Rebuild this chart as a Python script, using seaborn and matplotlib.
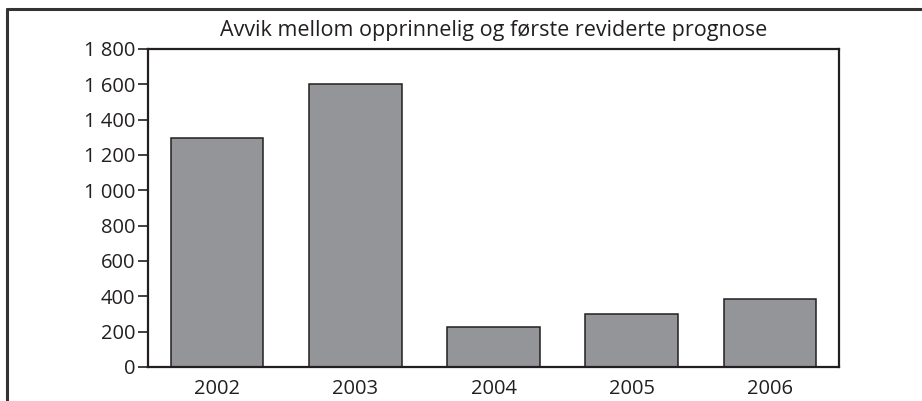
import matplotlib.pyplot as plt
import pandas as pd
import seaborn as sns
from matplotlib.lines import Line2D
from matplotlib.ticker import FuncFormatter, MultipleLocator

years = ["2002", "2003", "2004", "2005", "2006"]
deviation = [1295, 1600, 228, 298, 385]

title = "Avvik mellom opprinnelig og første reviderte prognose"
ink = "#231f20"


def main():
    sns.set_style("white")
    plt.rcParams["font.family"] = ["Open Sans", "DejaVu Sans"]

    df = pd.DataFrame({"year": years, "deviation": deviation})

    fig = plt.figure(figsize=(9.22, 4.01), dpi=100)
    ax = fig.add_axes([0.1605, 0.0848, 0.7495, 0.7932])

    sns.barplot(
        data=df,
        x="year",
        y="deviation",
        color="#939598",
        saturation=1,
        width=0.67,
        edgecolor=ink,
        linewidth=1.1,
        ax=ax,
    )

    ax.set_xlim(-0.5, len(years) - 0.5)
    ax.set_ylim(0, 1800)
    ax.yaxis.set_major_locator(MultipleLocator(200))
    ax.yaxis.set_major_formatter(
        FuncFormatter(lambda v, _: f"{v:,.0f}".replace(",", " "))
    )
    ax.set_xlabel("")
    ax.set_ylabel("")

    for spine in ax.spines.values():
        spine.set_visible(True)
        spine.set_color(ink)
        spine.set_linewidth(1.6)

    ax.tick_params(axis="y", left=True, length=7, width=1.2, color=ink,
                   labelsize=14.5, labelcolor=ink, pad=2)
    ax.tick_params(axis="x", bottom=False, labelsize=14.5, labelcolor=ink, pad=5)

    ax.set_title(title, fontsize=15.5, color=ink, pad=9)

    # outer frame (top and left edge only)
    fig.add_artist(Line2D([7 / 922, 1], [1 - 9 / 401, 1 - 9 / 401],
                          color="#333333", linewidth=2.2))
    fig.add_artist(Line2D([7 / 922, 7 / 922], [0, 1 - 9 / 401],
                          color="#333333", linewidth=2.2))

    fig.savefig("out.png", dpi=100)


if __name__ == "__main__":
    main()
